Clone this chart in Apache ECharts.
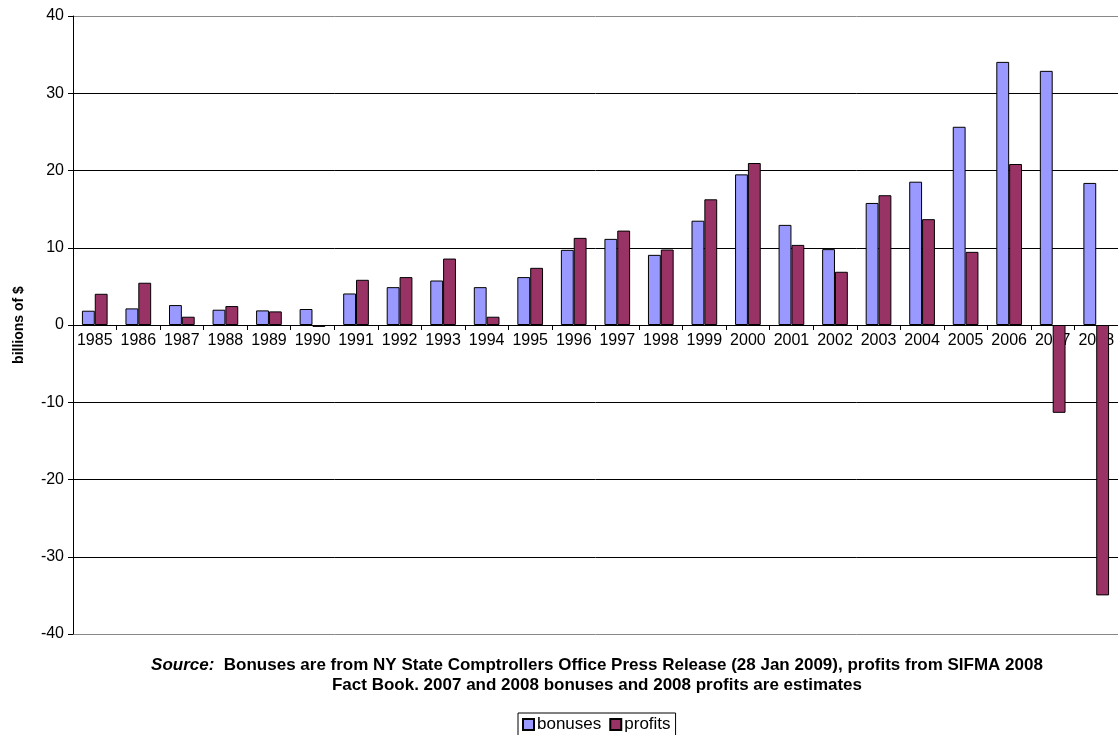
<!DOCTYPE html>
<html>
<head>
<meta charset="utf-8">
<script src="https://cdn.jsdelivr.net/npm/echarts@6/dist/echarts.min.js"></script>
<style>
html,body{margin:0;padding:0;background:#fff;}
#chart{width:1118px;height:735px;}
</style>
</head>
<body>
<div id="chart"></div>
<script>
const years = ['1985','1986','1987','1988','1989','1990','1991','1992','1993','1994','1995','1996','1997','1998','1999','2000','2001','2002','2003','2004','2005','2006','2007','2008'];
const bonuses = [1.85,2.15,2.58,1.98,1.89,2.07,4.08,4.9,5.76,4.9,6.2,9.73,11.15,9.08,13.5,19.5,12.96,9.82,15.8,18.55,25.66,34.06,32.9,18.39];
const profits = [4.04,5.47,1.07,2.45,1.76,-0.25,5.85,6.2,8.6,1.07,7.4,11.28,12.22,9.77,16.27,20.97,10.37,6.89,16.8,13.7,9.47,20.84,-11.37,-35.0];
const yTicks = {min:-40, max:40, interval:10};
const font = 'Liberation Sans, Arial, sans-serif';

const gridTop = 16, gridHeight = 618;
const zeroOffset = -gridHeight * (0 - yTicks.min) / (yTicks.max - yTicks.min);

const chart = echarts.init(document.getElementById('chart'), null, {renderer:'canvas'});
chart.setOption({
  animation:false,
  backgroundColor:'#fff',
  graphic:[{
    type:'text', x:597, y:675,
    style:{
      text:'{i|Source:}  Bonuses are from NY State Comptrollers Office Press Release (28 Jan 2009), profits from SIFMA 2008\nFact Book. 2007 and 2008 bonuses and 2008 profits are estimates',
      align:'center', verticalAlign:'middle',
      font:'bold 17px ' + font, fill:'#000', lineHeight:20,
      rich:{ i:{font:'italic bold 17px ' + font, fill:'#000'} }
    }
  }],
  legend:{
    data:['bonuses','profits'],
    left:518, top:713,
    itemWidth:11, itemHeight:11, itemGap:8,
    icon:'rect',
    borderColor:'#000', borderWidth:1, padding:[3,5,3,4],
    textStyle:{fontFamily:font, fontSize:17, color:'#000', padding:[0,0,0,-2]}
  },
  grid:{left:73, top:gridTop, width:1046, height:gridHeight, containLabel:false},
  xAxis:{
    type:'category', data:years,
    offset: zeroOffset,
    axisLine:{onZero:false, lineStyle:{color:'#000', width:1}},
    axisTick:{show:true, alignWithLabel:false, length:5, lineStyle:{color:'#000'}},
    axisLabel:{fontFamily:font, fontSize:16, color:'#000', margin:8, interval:0},
    splitLine:{show:false}
  },
  yAxis:{
    type:'value', min:yTicks.min, max:yTicks.max, interval:yTicks.interval,
    name:'billions of $', nameLocation:'middle', nameGap:47,
    nameTextStyle:{fontFamily:font, fontSize:14, fontWeight:'bold', color:'#000'},
    axisLine:{show:true, lineStyle:{color:'#000', width:1}},
    axisTick:{show:true, length:5, lineStyle:{color:'#000'}},
    axisLabel:{fontFamily:font, fontSize:16, color:'#000', margin:9},
    splitLine:{show:true, lineStyle:{color:['#888','#000','#000','#000','#000','#000','#000','#000','#888'], width:1}}
  },
  series:[
    {name:'bonuses', type:'bar', data:bonuses, barGap:'0%', barCategoryGap:'41%',
     itemStyle:{color:'#9999FF', borderColor:'#000', borderWidth:1}},
    {name:'profits', type:'bar', data:profits, barGap:'0%', barCategoryGap:'41%',
     itemStyle:{color:'#993366', borderColor:'#000', borderWidth:1}}
  ]
});
</script>
</body>
</html>
